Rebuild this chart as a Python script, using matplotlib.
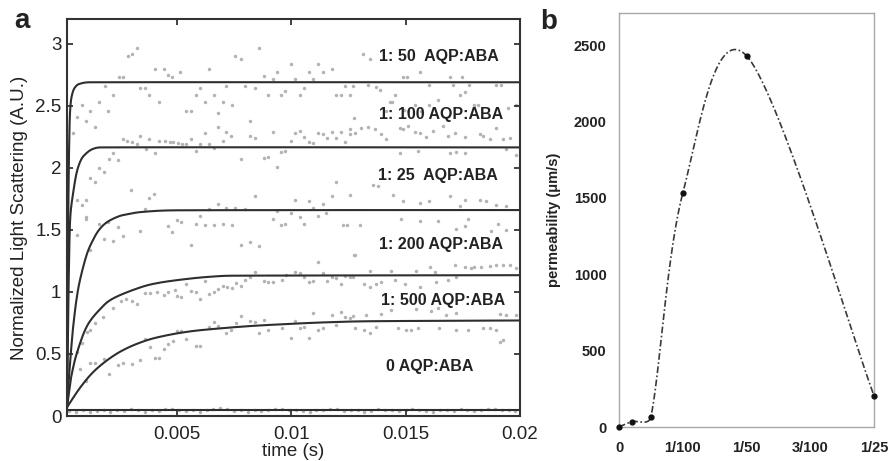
import numpy as np
import matplotlib
matplotlib.use("Agg")
import matplotlib.pyplot as plt

plt.rcParams['font.family'] = ['Liberation Sans', 'DejaVu Sans']

# ---------------- panel a : fitted curves ----------------
fit_t_50 = [0.0002, 0.00025, 0.0003, 0.00035, 0.00045, 0.0006, 0.0008, 0.0012, 0.02]
fit_v_50 = [0.07, 1.5, 2.25, 2.5, 2.61, 2.66, 2.68, 2.69, 2.69]

fit_t_100 = [0.0002, 0.00025, 0.0003, 0.00035, 0.00047, 0.00062, 0.0008, 0.001, 0.0013, 0.0017, 0.02]
fit_v_100 = [0.07, 0.8, 1.35, 1.62, 1.80, 1.96, 2.06, 2.11, 2.15, 2.165, 2.165]

fit_t_25 = [0.0002, 0.00025, 0.00033, 0.0004, 0.00047, 0.0006, 0.00076, 0.00106, 0.00134,
            0.0016, 0.00193, 0.0024, 0.0028, 0.0035, 0.005, 0.02]
fit_v_25 = [0.07, 0.22, 0.42, 0.58, 0.72, 0.92, 1.09, 1.30, 1.42, 1.50, 1.56, 1.605, 1.625,
            1.645, 1.658, 1.66]

fit_t_200 = [0.0002, 0.00033, 0.0004, 0.00062, 0.00106, 0.00164, 0.00222, 0.00338, 0.00426,
             0.0055, 0.0065, 0.0075, 0.02]
fit_v_200 = [0.07, 0.25, 0.33, 0.50, 0.72, 0.86, 0.948, 1.035, 1.075, 1.106, 1.123, 1.131, 1.135]

fit_t_500 = [0.0002, 0.00076, 0.00135, 0.00207, 0.0028, 0.00368, 0.00455, 0.0055, 0.0065,
             0.0082, 0.01, 0.0115, 0.0135, 0.02]
fit_v_500 = [0.07, 0.225, 0.355, 0.465, 0.545, 0.61, 0.65, 0.68, 0.70, 0.725, 0.743, 0.755,
             0.764, 0.77]

fit_t_0 = [0.0002, 0.02]
fit_v_0 = [0.05, 0.05]

# ---------------- panel a : measured points (t, value) ----------------
dots_50 = [(0.00324, 2.97), (0.00302, 2.92), (0.00285, 2.90), (0.00248, 2.73), (0.00263, 2.73),
           (0.00404, 2.80), (0.00443, 2.80), (0.00462, 2.75), (0.00481, 2.73), (0.00516, 2.77),
           (0.00338, 2.64), (0.0036, 2.64), (0.00379, 2.59), (0.00222, 2.59), (0.00186, 2.66),
           (0.00421, 2.53), (0.00161, 2.53), (0.00084, 2.51), (0.0012, 2.46), (0.002, 2.46),
           (0.00062, 2.41), (0.00103, 2.38), (0.00142, 2.33), (0.00045, 2.28),
           (0.00858, 2.97), (0.00756, 2.90), (0.0078, 2.88), (0.0064, 2.80), (0.01, 2.84),
           (0.01117, 2.84), (0.01178, 2.80), (0.00881, 2.74), (0.0094, 2.77), (0.0092, 2.72),
           (0.01018, 2.72), (0.01076, 2.77), (0.01095, 2.72), (0.01139, 2.77), (0.006, 2.64),
           (0.00582, 2.59), (0.00717, 2.66), (0.00797, 2.66), (0.00841, 2.64), (0.00899, 2.59),
           (0.00957, 2.59), (0.00975, 2.62), (0.01037, 2.59), (0.01056, 2.64), (0.01197, 2.59),
           (0.01219, 2.59), (0.01258, 2.59), (0.01237, 2.66), (0.00622, 2.53), (0.00662, 2.59),
           (0.00702, 2.53), (0.00742, 2.51), (0.00542, 2.46), (0.0056, 2.46), (0.00678, 2.44),
           (0.00819, 2.38),
           (0.01314, 2.92), (0.01343, 2.88), (0.01561, 2.77), (0.01488, 2.73), (0.01506, 2.73),
           (0.01692, 2.73), (0.01748, 2.73), (0.0127, 2.656), (0.01335, 2.67), (0.01372, 2.648),
           (0.01387, 2.63), (0.01452, 2.59), (0.01602, 2.67), (0.01707, 2.67), (0.01736, 2.59),
           (0.01758, 2.61), (0.01777, 2.67), (0.01801, 2.51), (0.01816, 2.51), (0.01896, 2.67),
           (0.01918, 2.67), (0.01947, 2.48), (0.01984, 2.51), (0.0143, 2.53), (0.01442, 2.53),
           (0.01416, 2.46), (0.01491, 2.47), (0.0151, 2.46), (0.01539, 2.51), (0.01568, 2.46),
           (0.01604, 2.51), (0.01641, 2.55)]

dots_100 = [(0.00263, 2.23), (0.00283, 2.22), (0.00302, 2.21), (0.00341, 2.26), (0.00379, 2.23),
            (0.00421, 2.22), (0.0045, 2.22), (0.0047, 2.21), (0.00483, 2.21), (0.00503, 2.20),
            (0.00522, 2.19), (0.00542, 2.19), (0.00324, 2.19), (0.00365, 2.15), (0.00404, 2.12),
            (0.00222, 2.12), (0.00204, 2.07), (0.00244, 2.06), (0.00161, 2.00), (0.00183, 1.97),
            (0.0012, 1.92), (0.00142, 1.89), (0.00299, 1.82), (0.004, 1.79), (0.00379, 1.76),
            (0.00065, 1.74), (0.00103, 1.74), (0.00084, 1.70), (0.0036, 1.67), (0.00103, 1.60),
            (0.00678, 2.33), (0.00622, 2.28), (0.00717, 2.29), (0.00739, 2.26), (0.00819, 2.26),
            (0.00841, 2.24), (0.0092, 2.29), (0.01018, 2.28), (0.01037, 2.30), (0.01056, 2.25),
            (0.01076, 2.21), (0.01095, 2.20), (0.01117, 2.28), (0.01139, 2.27), (0.01157, 2.24),
            (0.01178, 2.29), (0.01197, 2.24), (0.01219, 2.29), (0.01237, 2.21), (0.01258, 2.27),
            (0.01275, 2.40), (0.00998, 2.22), (0.0056, 2.23), (0.006, 2.19), (0.0064, 2.19),
            (0.00702, 2.22), (0.00582, 2.14), (0.00663, 2.16), (0.0078, 2.07), (0.00881, 2.08),
            (0.00899, 2.09), (0.0094, 2.01), (0.00957, 2.13), (0.00975, 2.14), (0.01197, 1.89),
            (0.01255, 2.31), (0.0128, 2.28), (0.01307, 2.32), (0.01335, 2.33), (0.01365, 2.31),
            (0.01394, 2.27), (0.01416, 2.23), (0.01474, 2.32), (0.01488, 2.31), (0.0151, 2.34),
            (0.01539, 2.29), (0.01561, 2.28), (0.0159, 2.25), (0.01619, 2.30), (0.01663, 2.34),
            (0.01685, 2.26), (0.01714, 2.28), (0.01758, 2.25), (0.01823, 2.27), (0.01838, 2.26),
            (0.01867, 2.23), (0.01896, 2.32), (0.01926, 2.23), (0.01955, 2.24), (0.0194, 2.15),
            (0.01692, 2.12), (0.01721, 2.13), (0.01758, 2.12), (0.01474, 2.12), (0.01554, 2.14),
            (0.01984, 2.10), (0.01357, 1.86), (0.0138, 1.85)]

dots_25 = [(0.00103, 1.59), (0.00161, 1.55), (0.002, 1.56), (0.00244, 1.52), (0.00263, 1.45),
           (0.00222, 1.41), (0.00183, 1.43), (0.00338, 1.49), (0.00462, 1.53), (0.00499, 1.58),
           (0.0052, 1.56), (0.00481, 1.48), (0.00062, 1.46), (0.0012, 1.34),
           (0.00841, 1.77), (0.01015, 1.74), (0.01076, 1.73), (0.01178, 1.77), (0.01258, 1.78),
           (0.0068, 1.71), (0.00717, 1.68), (0.00756, 1.68), (0.00797, 1.67), (0.01139, 1.71),
           (0.01095, 1.68), (0.0064, 1.67), (0.006, 1.61), (0.0092, 1.59), (0.01037, 1.60),
           (0.01117, 1.61), (0.01154, 1.64), (0.01, 1.64), (0.01056, 1.55), (0.0094, 1.65),
           (0.00582, 1.55), (0.00622, 1.54), (0.00662, 1.54), (0.00702, 1.55), (0.00742, 1.54),
           (0.00957, 1.54), (0.00975, 1.55), (0.01225, 1.54), (0.01243, 1.54), (0.00561, 1.38),
           (0.0078, 1.38), (0.00819, 1.40), (0.00858, 1.37), (0.01274, 1.30), (0.01117, 1.24),
           (0.01445, 1.78), (0.01488, 1.73), (0.01561, 1.72), (0.01604, 1.73), (0.01692, 1.77),
           (0.01736, 1.69), (0.01758, 1.74), (0.01823, 1.74), (0.01852, 1.73), (0.01896, 1.70),
           (0.0194, 1.69), (0.01299, 1.54), (0.01481, 1.59), (0.01561, 1.57), (0.01641, 1.57),
           (0.01721, 1.51), (0.01758, 1.53), (0.01772, 1.59), (0.01874, 1.49), (0.01903, 1.55),
           (0.0194, 1.50)]

dots_200 = [(0.00106, 0.68), (0.0012, 0.694), (0.00142, 0.748), (0.00178, 0.80), (0.00222, 0.869),
            (0.00258, 0.927), (0.0028, 0.944), (0.00302, 0.927), (0.00324, 0.90), (0.0036, 0.99),
            (0.00382, 0.994), (0.00414, 0.997), (0.00443, 0.976), (0.00462, 1.00), (0.00491, 1.016),
            (0.00499, 0.968), (0.0052, 0.96),
            (0.00542, 1.06), (0.00561, 1.01), (0.00582, 0.997), (0.006, 0.94), (0.00622, 1.09),
            (0.0064, 0.98), (0.00662, 0.997), (0.0068, 1.02), (0.00702, 1.05), (0.00721, 1.04),
            (0.00742, 1.03), (0.0076, 1.07), (0.0078, 1.05), (0.00799, 1.10), (0.00819, 1.12),
            (0.00881, 1.09), (0.00899, 1.08), (0.0092, 1.08), (0.00959, 1.10), (0.00977, 1.14),
            (0.01015, 1.16), (0.01037, 1.15), (0.01056, 1.12), (0.01076, 1.08), (0.01095, 1.09),
            (0.01157, 1.09), (0.01178, 1.12), (0.01197, 1.11), (0.01216, 1.06), (0.01237, 1.13),
            (0.01258, 1.12), (0.01139, 1.15), (0.00841, 1.16),
            (0.01277, 1.30), (0.01343, 1.17), (0.01437, 1.17), (0.01605, 1.20), (0.01714, 1.22),
            (0.01758, 1.20), (0.01787, 1.19), (0.01801, 1.20), (0.0183, 1.20), (0.01867, 1.21),
            (0.01896, 1.22), (0.01926, 1.22), (0.01955, 1.22), (0.01984, 1.19), (0.01547, 1.17),
            (0.01627, 1.16), (0.0127, 1.12), (0.0132, 1.06), (0.01343, 1.04), (0.01372, 1.06),
            (0.01394, 1.08), (0.01452, 1.10), (0.01496, 1.06), (0.01561, 1.04), (0.01634, 1.08),
            (0.01685, 1.10), (0.01721, 1.12)]

dots_500 = [(0.00062, 0.519), (0.00084, 0.586), (0.00076, 0.379), (0.00103, 0.282), (0.0012, 0.425),
            (0.00142, 0.425), (0.00183, 0.46), (0.00204, 0.336), (0.00244, 0.411), (0.00263, 0.425),
            (0.00302, 0.417), (0.00338, 0.452), (0.0036, 0.621), (0.00382, 0.559), (0.00404, 0.465),
            (0.00423, 0.47), (0.00443, 0.54), (0.00462, 0.578), (0.00484, 0.605), (0.00499, 0.685),
            (0.0052, 0.685),
            (0.0064, 0.72), (0.00663, 0.756), (0.0068, 0.728), (0.0076, 0.747), (0.0078, 0.809),
            (0.00819, 0.766), (0.00841, 0.756), (0.00881, 0.774), (0.0096, 0.712), (0.00998, 0.632),
            (0.01018, 0.766), (0.01037, 0.707), (0.01056, 0.72), (0.01095, 0.828), (0.01117, 0.694),
            (0.01139, 0.712), (0.01178, 0.815), (0.01197, 0.734), (0.01219, 0.836), (0.01237, 0.801),
            (0.01258, 0.788), (0.00717, 0.667), (0.00739, 0.694), (0.00858, 0.667), (0.00899, 0.694),
            (0.01076, 0.626), (0.00582, 0.567), (0.006, 0.567), (0.00542, 0.621),
            (0.0127, 0.81), (0.01328, 0.815), (0.01394, 0.82), (0.01437, 0.855), (0.01547, 0.86),
            (0.01612, 0.843), (0.01641, 0.868), (0.01678, 0.815), (0.01721, 0.83), (0.01911, 0.82),
            (0.0194, 0.815), (0.01984, 0.815), (0.01277, 0.707), (0.0132, 0.694), (0.01343, 0.667),
            (0.01372, 0.72), (0.01466, 0.707), (0.01503, 0.694), (0.01525, 0.694), (0.01554, 0.707),
            (0.01648, 0.712), (0.01721, 0.694), (0.01772, 0.694), (0.01838, 0.707), (0.01867, 0.707),
            (0.01896, 0.694), (0.01911, 0.6), (0.01926, 0.613)]

dots_0 = [(0.0003, 0.04), (0.0006, 0.035), (0.0009, 0.045), (0.0012, 0.03), (0.0015, 0.04),
          (0.0018, 0.05), (0.0021, 0.035), (0.0024, 0.045), (0.0027, 0.04), (0.003, 0.06),
          (0.0033, 0.05), (0.0036, 0.035), (0.0039, 0.045), (0.0042, 0.04), (0.0045, 0.055),
          (0.0048, 0.06), (0.0051, 0.045), (0.0054, 0.04), (0.0057, 0.05), (0.006, 0.035),
          (0.0063, 0.045), (0.0066, 0.06), (0.0069, 0.065), (0.0072, 0.055), (0.0075, 0.04),
          (0.0078, 0.045), (0.0081, 0.035), (0.0084, 0.05), (0.0087, 0.04), (0.009, 0.045),
          (0.0093, 0.055), (0.0096, 0.06), (0.0099, 0.045), (0.0102, 0.05), (0.0105, 0.04),
          (0.0108, 0.035), (0.0111, 0.045), (0.0114, 0.05), (0.0117, 0.06), (0.012, 0.055),
          (0.0123, 0.04), (0.0126, 0.045), (0.0129, 0.05), (0.0132, 0.035), (0.0135, 0.04),
          (0.0138, 0.055), (0.0141, 0.05), (0.0144, 0.045), (0.0147, 0.04), (0.015, 0.05),
          (0.0153, 0.06), (0.0156, 0.045), (0.0159, 0.04), (0.0162, 0.035), (0.0165, 0.045),
          (0.0168, 0.05), (0.0171, 0.04), (0.0174, 0.055), (0.0177, 0.045), (0.018, 0.04),
          (0.0183, 0.05), (0.0186, 0.06), (0.0189, 0.055), (0.0192, 0.045), (0.0195, 0.05),
          (0.0198, 0.04)]

series_labels = ["1: 50  AQP:ABA", "1: 100 AQP:ABA", "1: 25  AQP:ABA",
                 "1: 200 AQP:ABA", "1: 500 AQP:ABA", "0 AQP:ABA"]
label_t = [0.01644, 0.01656, 0.01641, 0.01656, 0.01663, 0.01605]
label_v = [2.90, 2.43, 1.94, 1.38, 0.93, 0.40]

a_xticks = [0.005, 0.01, 0.015, 0.02]
a_xticklabels = ["0.005", "0.01", "0.015", "0.02"]
a_yticks = [0, 0.5, 1, 1.5, 2, 2.5, 3]
a_yticklabels = ["0", "0.5", "1", "1.5", "2", "2.5", "3"]

# ---------------- panel b ----------------
ratio = [0, 0.002, 0.005, 0.01, 0.02, 0.04]
permeability = [0, 35, 67, 1530, 2430, 205]
b_xticks = [0, 0.01, 0.02, 0.03, 0.04]
b_xticklabels = ["0", "1/100", "1/50", "3/100", "1/25"]
b_yticks = [0, 500, 1000, 1500, 2000, 2500]

# ---------------- figure ----------------
W, H = 894, 461
fig = plt.figure(figsize=(W / 100, H / 100), dpi=100)
axa = fig.add_axes([67 / W, 45 / H, 453 / W, 397 / H])
axb = fig.add_axes([619 / W, 34 / H, 255 / W, 414 / H])

axa.set_xlim(0.0002, 0.02)
axa.set_ylim(0, 3.2)
axb.set_xlim(0, 0.04)
axb.set_ylim(0, 2710)


def smooth_line(ax, xs, ys, n=60, tension=1 / 6):
    """Excel-style smoothed line through the points, built in display space."""
    P = ax.transData.transform(np.column_stack([xs, ys]))
    N = len(P)
    parts = []
    s = np.linspace(0, 1, n)[:, None]
    for i in range(N - 1):
        p0 = P[i - 1] if i > 0 else P[i]
        p1, p2 = P[i], P[i + 1]
        p3 = P[i + 2] if i + 2 < N else P[i + 1]
        d12 = np.hypot(*(p2 - p1))
        d02 = np.hypot(*(p2 - p0))
        d13 = np.hypot(*(p3 - p1))
        f1 = tension if (d02 == 0 or tension * d02 <= d12 / 2) else d12 / (2 * d02)
        f2 = tension if (d13 == 0 or tension * d13 <= d12 / 2) else d12 / (2 * d13)
        c1 = p1 + f1 * (p2 - p0)
        c2 = p2 - f2 * (p3 - p1)
        B = (1 - s) ** 3 * p1 + 3 * (1 - s) ** 2 * s * c1 + 3 * (1 - s) * s ** 2 * c2 + s ** 3 * p2
        parts.append(B if i == 0 else B[1:])
    D = np.vstack(parts)
    return ax.transData.inverted().transform(D)


dot_color = '#b3b3b3'
for d in [dots_50, dots_100, dots_25, dots_200, dots_500, dots_0]:
    arr = np.array(d)
    axa.plot(arr[:, 0], arr[:, 1], 'o', ms=2.5, color=dot_color, mec='none', zorder=1)

for ft, fv in [(fit_t_50, fit_v_50), (fit_t_100, fit_v_100), (fit_t_25, fit_v_25),
               (fit_t_200, fit_v_200), (fit_t_500, fit_v_500), (fit_t_0, fit_v_0)]:
    c = smooth_line(axa, ft, fv)
    axa.plot(c[:, 0], c[:, 1], '-', color='#2e2e2e', lw=1.5, zorder=2)

for lab, lt, lv in zip(series_labels, label_t, label_v):
    axa.text(lt, lv, lab, ha='center', va='center', fontsize=11.5, fontweight='bold',
             color='#222222', zorder=3)

axa.set_xticks(a_xticks)
axa.set_xticklabels(a_xticklabels)
axa.set_yticks(a_yticks)
axa.set_yticklabels(a_yticklabels)
axa.tick_params(direction='in', top=True, right=True, length=4, width=1.2,
                labelsize=13.5, colors='#222222')
axa.tick_params(axis='x', pad=7)
axa.tick_params(axis='y', pad=4)
for s in axa.spines.values():
    s.set_linewidth(1.5)
    s.set_color('#333333')
axa.set_xlabel("time (s)", fontsize=13.5, labelpad=0, color='#222222')
axa.set_ylabel("Normalized Light Scattering (A.U.)", fontsize=13.5, labelpad=5, color='#222222')

# panel b
axb.set_xticks(b_xticks)
axb.set_xticklabels(b_xticklabels)
axb.set_yticks(b_yticks)
axb.tick_params(length=0, labelsize=10.5, colors='#222222')
axb.tick_params(axis='x', pad=10)
axb.tick_params(axis='y', pad=9)
for lab in axb.get_xticklabels() + axb.get_yticklabels():
    lab.set_fontweight('bold')
for s in axb.spines.values():
    s.set_linewidth(1.0)
    s.set_color('#a8a8a8')
axb.set_ylabel("permeability (\u03bcm/s)", fontsize=10.5, fontweight='bold', labelpad=9,
               color='#222222')

curve = smooth_line(axb, ratio, permeability)
axb.plot(curve[:, 0], curve[:, 1], color='#3a3a3a', lw=1.2,
         linestyle=(0, (4, 1.5, 1, 1.5)), zorder=2)
axb.plot(ratio, permeability, 'o', ms=3.5, color='#111111', zorder=3, clip_on=False)

fig.text(22 / W, 1 - 21 / H, "a", fontsize=20, fontweight='bold', ha='center', va='center',
         color='#222222')
fig.text(549 / W, 1 - 22 / H, "b", fontsize=20, fontweight='bold', ha='center', va='center',
         color='#222222')

fig.savefig("out.png", dpi=100)
